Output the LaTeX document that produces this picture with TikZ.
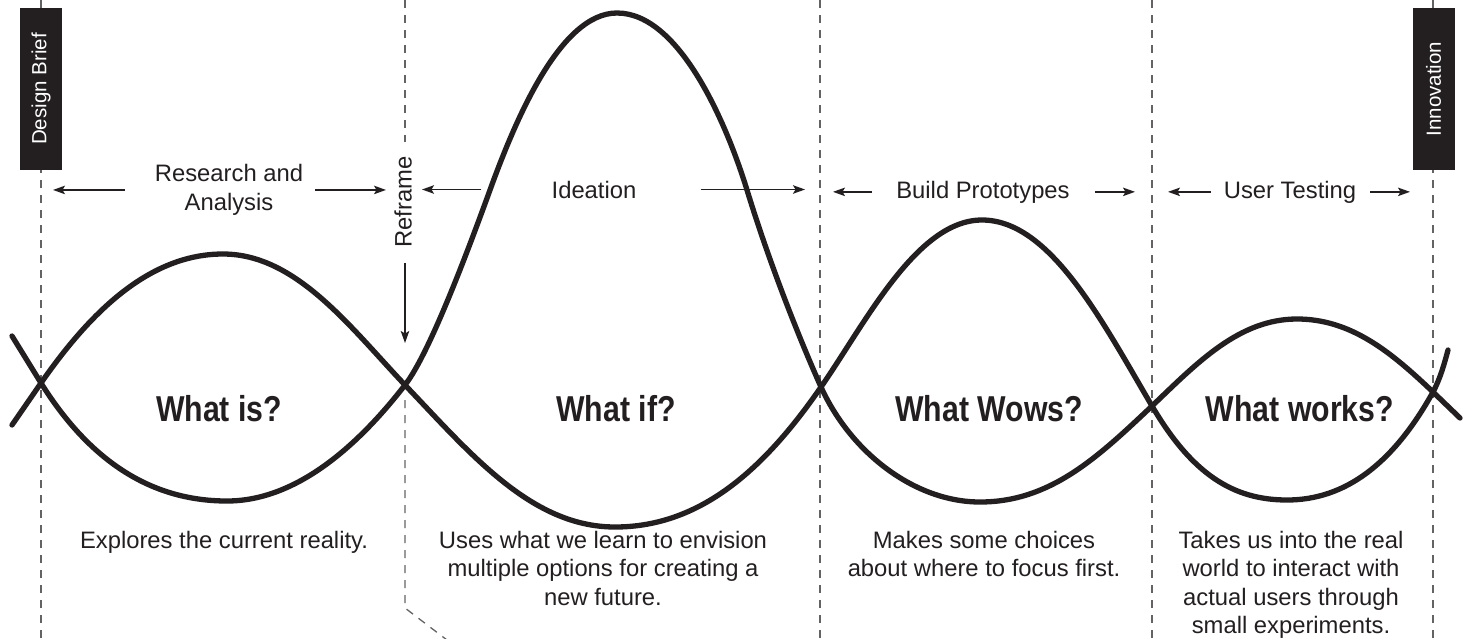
\documentclass[tikz,border=0pt]{standalone}
\usepackage{fontspec}
\setmainfont{Liberation Sans}
\newfontfamily\wowfont[FakeStretch=0.84]{Liberation Sans}
\usetikzlibrary{arrows.meta}
\definecolor{ink}{RGB}{35,31,32}
\tikzset{phase/.style={font=\fontsize{23.8}{28.3}\selectfont, text=ink, inner sep=0pt, align=center},
note/.style={phase, anchor=north},
question/.style={font=\wowfont\bfseries\fontsize{36}{40}\selectfont, text=ink, inner sep=0pt, anchor=base},
milestone/.style={fill=ink, text=white, rotate=90, minimum width=162pt, minimum height=42pt,
  inner sep=0pt, font=\fontsize{20.5}{24}\selectfont},
wave/.style={draw=ink, line width=5.3pt, line cap=round},
divider/.style={draw=ink!70, line width=1.3pt, dash pattern=on 8pt off 7pt},
span/.style={draw=ink, line width=1.3pt, -{Stealth[length=12pt,width=8.5pt,inset=2.5pt]}}}

\begin{document}
\begin{tikzpicture}[x=1pt,y=-1pt]
  \useasboundingbox (0,0) rectangle (1467,638);

  % phase borders
  \draw [divider] (41,0) -- (41,638);
  \draw [divider] (405,0) -- (405,142);
  \draw [divider] (405,400) -- (405,608) -- (447,640);
  \draw [divider] (820,0) -- (820,638);
  \draw [divider] (1152,0) -- (1152,638);
  \draw [divider] (1433,0) -- (1433,638);

  \node (brief) [milestone] at (41,89) {Design Brief};
  \node (innov) [milestone] at (1433.5,89) {Innovation};

  % the two waves
  \draw [wave] (12,336) -- (41,383) .. controls (91,463) and (153,501) .. (227,501)
    .. controls (298,501) and (360,443) .. (405,385)
    .. controls (430,353) and (470,245) .. (490,190)
    .. controls (515,121) and (560,13) .. (617,13)
    .. controls (680,13) and (727,125) .. (747,190)
    .. controls (770,265) and (800,340) .. (821,387)
    .. controls (851,453) and (915,502) .. (980,502)
    .. controls (1050,502) and (1097,458) .. (1152,406)
    .. controls (1197,363) and (1239,319) .. (1297,319)
    .. controls (1351,319) and (1391,352) .. (1433,392) -- (1460,418);
  \draw [wave] (12,425) -- (41,383) .. controls (91,311) and (150,254) .. (223,254)
    .. controls (296,254) and (350,327) .. (405,385)
    .. controls (470,453) and (531,527) .. (615,527)
    .. controls (697,527) and (761,474) .. (821,387)
    .. controls (866,322) and (917,220) .. (982,220)
    .. controls (1050,220) and (1102,321) .. (1152,406)
    .. controls (1192,474) and (1233,500) .. (1287,500)
    .. controls (1345,500) and (1393,464) .. (1433,392)
    .. controls (1440,379) and (1444,365) .. (1448,350);

  % phase names
  \node (research) [phase, anchor=north] at (229,164.5) {Research and\\Analysis};
  \node (reframe) [phase, rotate=90] at (403,202) {Reframe};
  \node (ideation) [phase, anchor=base] at (594,198) {Ideation};
  \node (build) [phase, anchor=base] at (983,198) {Build Prototypes};
  \node (testing) [phase, anchor=base] at (1290,198) {User Testing};

  \coordinate (raL) at (53,0);
  \coordinate (raR) at (386,0);
  \coordinate (idL) at (422,0);
  \coordinate (idR) at (805,0);
  \coordinate (bpL) at (833,0);
  \coordinate (bpR) at (1135,0);
  \coordinate (utL) at (1168,0);
  \coordinate (utR) at (1410,0);
  \coordinate (rfTip) at (405,343);

  \draw [span, shorten <=30pt] (research.west) -- (research.west -| raL);
  \draw [span, shorten <=12pt] (research.east) -- (research.east -| raR);
  \draw [span, shorten <=15pt] (reframe.west -| rfTip) -- (rfTip);
  \draw [span, shorten <=70pt] (ideation.west) -- (ideation.west -| idL);
  \draw [span, shorten <=64pt] (ideation.east) -- (ideation.east -| idR);
  \draw [span, shorten <=24pt] (build.west) -- (build.west -| bpL);
  \draw [span, shorten <=25pt] (build.east) -- (build.east -| bpR);
  \draw [span, shorten <=13pt] (testing.west) -- (testing.west -| utL);
  \draw [span, shorten <=14pt] (testing.east) -- (testing.east -| utR);

  % questions
  \node (whatis) [question] at (219,421) {What is?};
  \node (whatif) [question] at (616,421) {What if?};
  \node (whatwows) [question] at (989,421) {What Wows?};
  \node (whatworks) [question] at (1300,421) {What works?};

  % notes
  \node (noteis) [note] at (224,531) {Explores the current reality.};
  \node (noteif) [note] at (603,531) {Uses what we learn to envision\\multiple options for creating a\\new future.};
  \node (notewows) [note] at (984,531) {Makes some choices\\about where to focus first.};
  \node (noteworks) [note] at (1291,531) {Takes us into the real\\world to interact with\\actual users through\\small experiments.};
\end{tikzpicture}
\end{document}
